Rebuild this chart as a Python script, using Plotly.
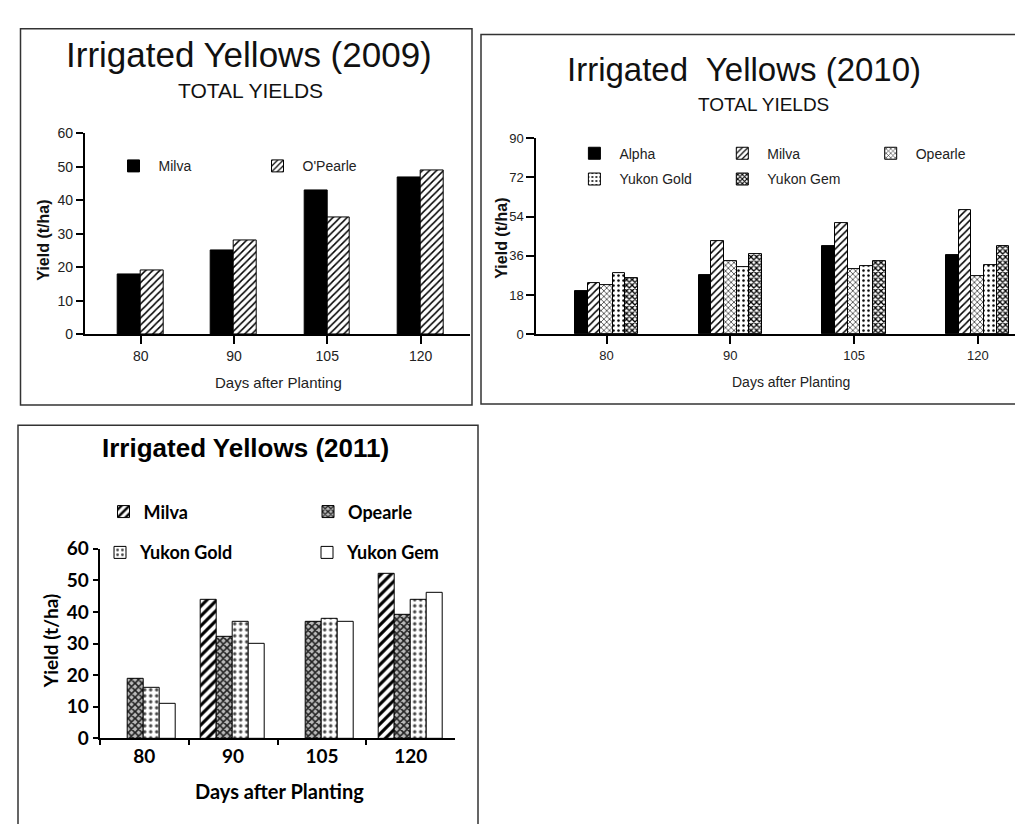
import plotly.graph_objects as go

# ---------------- data ----------------
days = ["80", "90", "105", "120"]

# 2009
milva_2009 = [18, 25, 43, 47]
opearle_2009 = [19, 28, 35, 49]

# 2010
alpha_2010 = [20.0, 27.0, 40.5, 36.2]
milva_2010 = [23.6, 42.9, 51.0, 57.1]
opearle_2010 = [22.5, 33.7, 30.0, 26.8]
yukon_gold_2010 = [28.0, 31.0, 31.1, 31.7]
yukon_gem_2010 = [25.7, 36.6, 33.7, 40.5]

# 2011
milva_2011 = [None, 44, None, 52]
opearle_2011 = [19, 32, 37, 39]
yukon_gold_2011 = [16, 37, 38, 44]
yukon_gem_2011 = [11, 30, 37, 46]

W, H = 1023, 824
def px(x):
    return x / W
def py(y):
    return 1 - y / H

ARIAL = "Liberation Sans, Arial, sans-serif"
NARROW = "Liberation Sans Narrow, Arial Narrow, Liberation Sans, sans-serif"
CAL = "Lato, Carlito, Calibri, sans-serif"

# ---------------- styles ----------------
def solid(c):
    return dict(color=c, line=dict(color="black", width=1))

def pat(shape, size, solidity, fg="black", bg="white"):
    return dict(color=bg, line=dict(color="black", width=1),
                pattern=dict(shape=shape, size=size, solidity=solidity,
                             fgcolor=fg, bgcolor=bg, fillmode="replace"))

fig = go.Figure()

def add_group(series, xa, ya, group_frac):
    n = len(series)
    w = group_frac / n
    for i, (name, vals, marker, leg) in enumerate(series):
        fig.add_trace(go.Bar(
            x=days, y=vals, name=name, xaxis=xa, yaxis=ya,
            width=w, offset=-group_frac / 2 + i * w,
            marker=marker, legend=leg, showlegend=True,
        ))

add_group([
    ("Milva", milva_2009, solid("black"), "legend"),
    ("O'Pearle", opearle_2009, pat("/", 5, 0.3), "legend2"),
], "x", "y", 0.49)

add_group([
    ("Alpha", alpha_2010, solid("black"), "legend3"),
    ("Milva", milva_2010, pat("/", 5, 0.3), "legend4"),
    ("Opearle", opearle_2010, pat("x", 4, 0.35, fg="#333"), "legend5"),
    ("Yukon Gold", yukon_gold_2010, pat(".", 5, 0.2), "legend6"),
    ("Yukon Gem", yukon_gem_2010, pat("x", 4, 0.55), "legend7"),
], "x2", "y2", 0.51)

add_group([
    ("Milva", milva_2011, pat("/", 7, 0.45), "legend8"),
    ("Opearle", opearle_2011, pat("x", 5, 0.55, fg="#222", bg="#bbb"), "legend9"),
    ("Yukon Gold", yukon_gold_2011, pat(".", 6, 0.25, fg="#444"), "legend10"),
    ("Yukon Gem", yukon_gem_2011, solid("white"), "legend11"),
], "x3", "y3", 0.72)

# ---------------- axes ----------------
common = dict(showgrid=False, zeroline=False, showline=True, linecolor="black",
              ticks="outside", tickcolor="black", fixedrange=True)

fig.update_layout(
    width=W, height=H, margin=dict(l=0, r=0, t=0, b=0),
    paper_bgcolor="white", plot_bgcolor="white",
    barmode="overlay", bargap=0,
    xaxis=dict(domain=[px(76.7), px(462)], range=[-0.6, 3.53], type="category",
               categoryarray=days, linewidth=1.5, ticklen=8, tickwidth=1.5,
               tickfont=dict(family=ARIAL, size=14, color="#222"), anchor="y", **common),
    yaxis=dict(domain=[py(323.3), py(116.7)], range=[0, 60], dtick=10,
               linewidth=1.5, ticklen=7, tickwidth=1.5,
               tickfont=dict(family=ARIAL, size=14, color="#222"), anchor="x", **common),
    xaxis2=dict(domain=[px(528), 1.0], range=[-0.57, 3.43], type="category",
                categoryarray=days, linewidth=1.5, ticklen=8, tickwidth=1.5,
                tickfont=dict(family=ARIAL, size=13, color="#222"), anchor="y2", **common),
    yaxis2=dict(domain=[py(323.3), py(121.5)], range=[0, 90],
                tickvals=[0, 18, 36, 54, 72, 90], linewidth=1.5, ticklen=8, tickwidth=1.5,
                tickfont=dict(family=ARIAL, size=13, color="#222"), anchor="x2", **common),
    xaxis3=dict(domain=[px(91.7), px(447.3)], range=[-0.5, 3.5], type="category",
                categoryarray=days, tickson="boundaries", linewidth=2, ticklen=5, tickwidth=2,
                tickfont=dict(family=CAL, size=19, color="black", weight="bold"),
                anchor="y3", **common),
    yaxis3=dict(domain=[py(739), py(544)], range=[0, 60], dtick=10,
                linewidth=2, ticklen=5, tickwidth=2,
                tickfont=dict(family=CAL, size=19, color="black", weight="bold"),
                anchor="x3", **common),
)

# ---------------- legends ----------------
def leg(xc, yc, font, iw=40):
    # xc = swatch centre in px; symbol centre offset = (iw+10)/2
    return dict(x=px(xc - (iw + 10) / 2), y=py(yc), xanchor="left", yanchor="middle",
                orientation="h", bgcolor="rgba(0,0,0,0)", borderwidth=0,
                itemwidth=iw, font=font, itemclick=False, itemdoubleclick=False)

f1 = dict(family=ARIAL, size=14, color="#222")
f2 = dict(family=ARIAL, size=14, color="#222")
f3 = dict(family=CAL, size=18, color="black", weight="bold")

fig.update_layout(
    legend=leg(125.5, 150.5, f1),
    legend2=leg(269.5, 150.5, f1),
    legend3=leg(586.4, 137.5, f2),
    legend4=leg(734.3, 137.5, f2),
    legend5=leg(882.7, 137.5, f2),
    legend6=leg(586.4, 164, f2),
    legend7=leg(734.3, 164, f2),
    legend8=leg(115.5, 506, f3, iw=30),
    legend9=leg(320, 506, f3, iw=30),
    legend10=leg(112, 548, f3, iw=30),
    legend11=leg(319, 548, f3, iw=30),
)

# ---------------- text ----------------
def ann(text, x, y, font, angle=0):
    fig.add_annotation(text=text, x=px(x), y=py(y), xref="paper", yref="paper",
                       showarrow=False, xanchor="center", yanchor="middle",
                       textangle=angle, font=font)

ann("Irrigated Yellows (2009)", 241, 36, dict(family=NARROW, size=35, color="#111"))
ann("TOTAL YIELDS", 242, 73, dict(family=NARROW, size=21, color="#111"))
ann("Irrigated\u00a0 Yellows (2010)", 736, 51, dict(family=NARROW, size=33, color="#111"))
ann("TOTAL YIELDS", 755, 87, dict(family=NARROW, size=19, color="#111"))
ann("Irrigated Yellows (2011)", 237, 440, dict(family=ARIAL, size=26, color="black", weight="bold"))

ann("Yield (t/ha)", 36, 227, dict(family=ARIAL, size=16, color="#111", weight="bold"), -90)
ann("Yield (t/ha)", 494, 225, dict(family=ARIAL, size=16, color="#111", weight="bold"), -90)
ann("Yield (t/ha)", 42, 639, dict(family=CAL, size=19, color="black", weight="bold"), -90)

ann("Days after Planting", 270, 373, dict(family=ARIAL, size=15, color="#222"))
ann("Days after Planting", 783, 372, dict(family=ARIAL, size=14, color="#222"))
ann("Days after Planting", 271, 793, dict(family=CAL, size=20, color="black", weight="bold"))

# ---------------- panel frames ----------------
def frame(x0, y0, x1, y1):
    fig.add_shape(type="rect", xref="paper", yref="paper",
                  x0=px(x0), x1=px(x1), y0=py(y1), y1=py(y0),
                  line=dict(color="#333", width=1.5), fillcolor="rgba(0,0,0,0)", layer="above")

frame(12.5, 9, 464, 396)
frame(473, 15, 1030, 395)
frame(10, 417, 470, 830)

fig.write_html("out.html")
